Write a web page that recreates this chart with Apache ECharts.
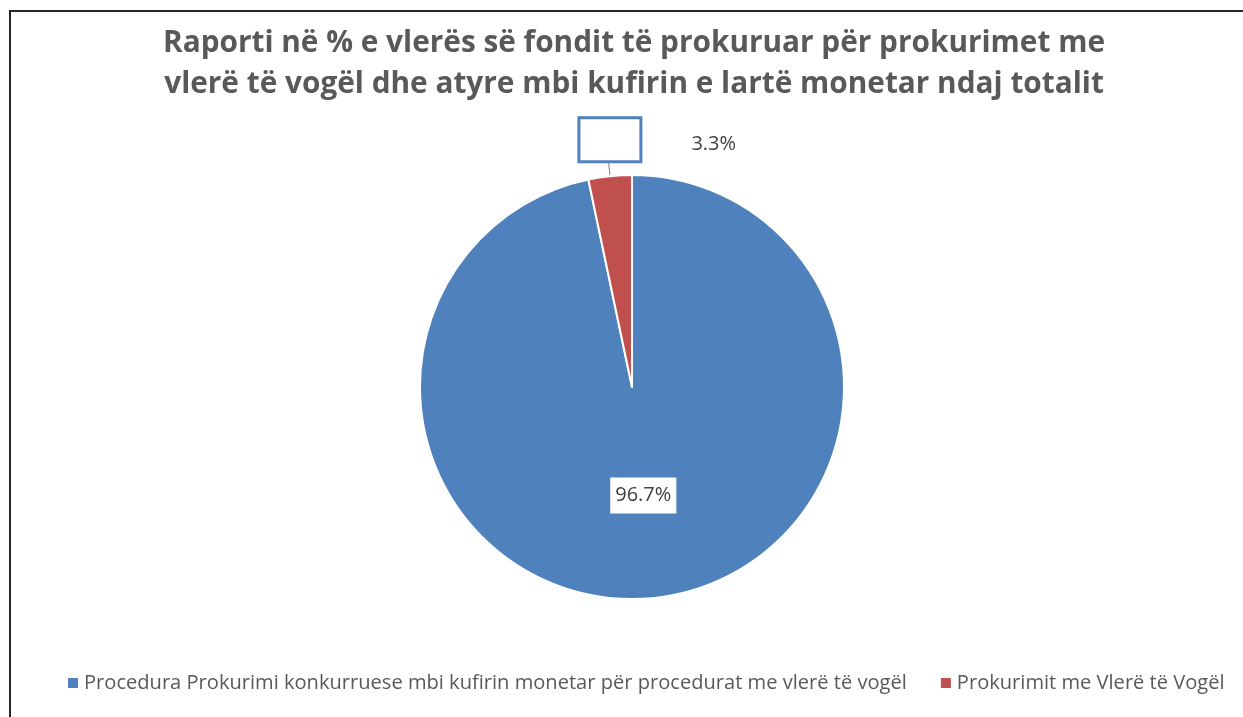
<!DOCTYPE html>
<html>
<head>
<meta charset="utf-8">
<title>Raporti ne %</title>
<script src="https://cdn.jsdelivr.net/npm/echarts@6/dist/echarts.min.js"></script>
<style>
  * { margin: 0; padding: 0; }
  body { background: #fff; }
  #main { position: absolute; left: 0; top: 0; width: 1243px; height: 717px; }
  .frame {
    position: absolute; left: 9px; top: 10px; right: 0; bottom: 0;
    border-left: 2px solid #262626; border-top: 2px solid #262626;
    pointer-events: none;
  }
</style>
</head>
<body>
<div id="main"></div>
<div class="frame"></div>
<script>
// te dhenat
var categories = [
  'Procedura Prokurimi konkurruese mbi kufirin monetar për procedurat me vlerë të vogël',
  'Prokurimit me Vlerë të Vogël'
];
var shares = [96.7, 3.3];
var colors = ['#4f81bd', '#c0504d'];
var titleText = 'Raporti në % e vlerës së fondit të prokuruar për prokurimet me\nvlerë të vogël dhe atyre mbi kufirin e lartë monetar ndaj totalit';

var pieData = categories.map(function (name, i) {
  return { name: name, value: shares[i], itemStyle: { color: colors[i] } };
});
// etiketa e pjeses se vogel jashte, me kutine bosh si ne origjinal
pieData[1].label = {
  position: 'outside',
  backgroundColor: 'transparent',
  padding: 0,
  formatter: function (p) { return '{box|}{v|' + p.value.toFixed(1) + '%}'; },
  rich: {
    box: { width: 59, height: 41, backgroundColor: '#fff', borderColor: '#4f81bd', borderWidth: 3 },
    v: { fontSize: 20, color: '#404040', fontFamily: 'Open Sans', padding: [10, 0, 0, 52] }
  }
};
pieData[1].labelLine = { show: true, length: 16, length2: 0, lineStyle: { color: '#7f7f7f', width: 1 } };

var myChart = echarts.init(document.getElementById('main'));
var option = {
  animation: false,
  color: colors,
  title: {
    text: titleText,
    left: 629,
    top: 18,
    textAlign: 'center',
    textStyle: {
      fontFamily: 'Open Sans',
      fontWeight: 'bold',
      fontSize: 29.8,
      lineHeight: 41,
      color: '#595959'
    }
  },
  legend: {
    data: categories,
    left: 61,
    top: 668,
    icon: 'rect',
    itemWidth: 12,
    itemHeight: 12,
    itemGap: 32,
    textStyle: { fontFamily: 'Open Sans', fontSize: 20.1, color: '#595959' }
  },
  series: [{
    type: 'pie',
    center: [632, 387],
    radius: 212,
    startAngle: 90,
    clockwise: true,
    emphasis: { disabled: true },
    itemStyle: { borderColor: '#fff', borderWidth: 2 },
    label: {
      position: 'inside',
      formatter: function (p) { return p.value.toFixed(1) + '%'; },
      backgroundColor: '#fff',
      padding: [8, 5, 8, 5],
      color: '#404040',
      fontSize: 20,
      fontFamily: 'Open Sans'
    },
    labelLayout: function (p) {
      if (p.dataIndex === 1) {
        return { align: 'left', verticalAlign: 'bottom', dx: -23 };
      }
    },
    data: pieData
  }]
};
myChart.setOption(option);
</script>
</body>
</html>
